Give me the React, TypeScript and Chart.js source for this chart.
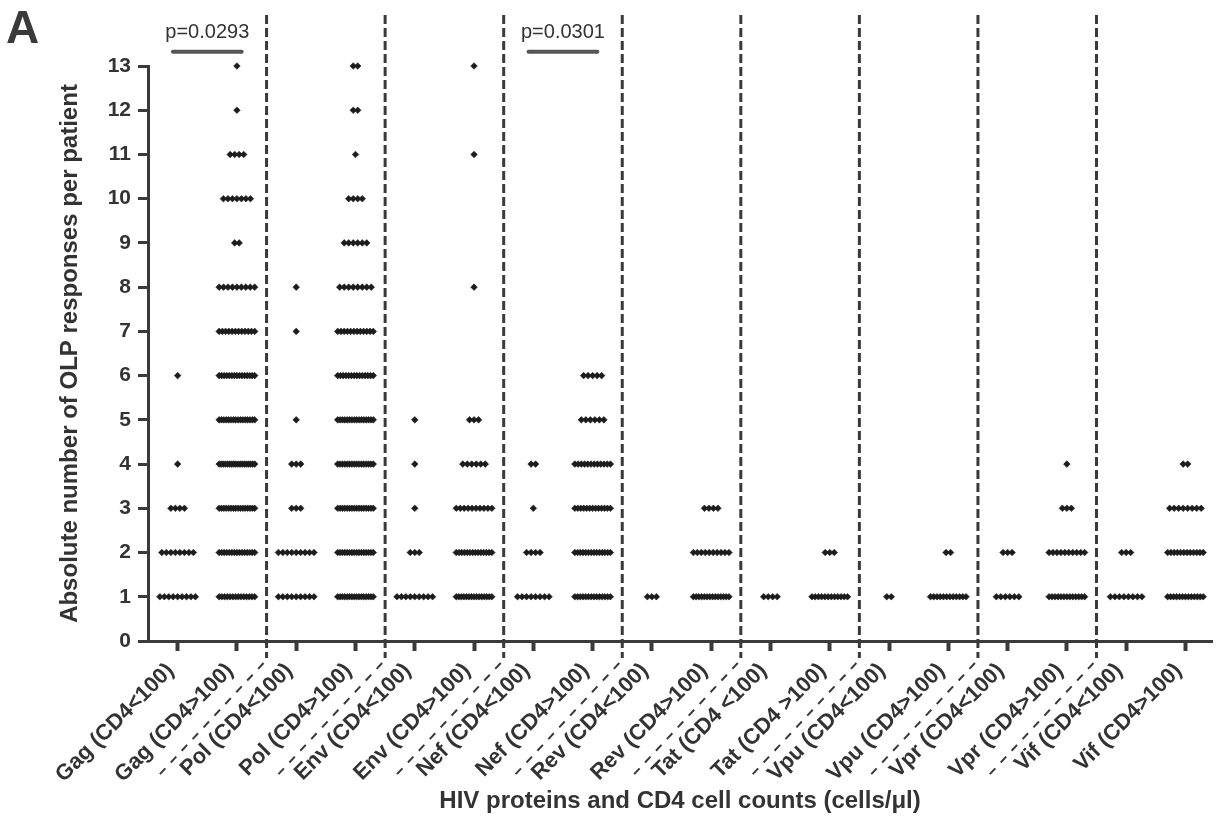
import React, { useEffect, useRef } from "react";
import { Chart, registerables } from "chart.js";

Chart.register(...registerables);

// ---------- data ----------
const categories = [
  "Gag (CD4<100)", "Gag (CD4>100)",
  "Pol (CD4<100)", "Pol (CD4>100)",
  "Env (CD4<100)", "Env (CD4>100)",
  "Nef (CD4<100)", "Nef (CD4>100)",
  "Rev (CD4<100)", "Rev (CD4>100)",
  "Tat (CD4 <100)", "Tat (CD4 >100)",
  "Vpu (CD4<100)", "Vpu (CD4>100)",
  "Vpr (CD4<100)", "Vpr (CD4>100)",
  "Vif (CD4<100)", "Vif (CD4>100)",
];

// response levels (absolute number of OLP responses)
const responseLevels = [1, 2, 3, 4, 5, 6, 7, 8, 9, 10, 11, 12, 13];

// number of patients at each response level (levels 1..13)
const gagLow = [9, 8, 4, 1, 0, 1, 0, 0, 0, 0, 0, 0, 0];
const gagHigh = [14, 15, 16, 18, 16, 15, 12, 9, 2, 7, 4, 1, 1];
const polLow = [9, 9, 3, 3, 1, 0, 1, 1, 0, 0, 0, 0, 0];
const polHigh = [16, 16, 16, 16, 16, 14, 12, 8, 6, 4, 1, 2, 2];
const envLow = [9, 3, 1, 1, 1, 0, 0, 0, 0, 0, 0, 0, 0];
const envHigh = [15, 14, 10, 6, 3, 0, 0, 1, 0, 0, 1, 0, 1];
const nefLow = [8, 4, 1, 2, 0, 0, 0, 0, 0, 0, 0, 0, 0];
const nefHigh = [14, 14, 13, 12, 6, 5, 0, 0, 0, 0, 0, 0, 0];
const revLow = [3, 0, 0, 0, 0, 0, 0, 0, 0, 0, 0, 0, 0];
const revHigh = [14, 10, 4, 0, 0, 0, 0, 0, 0, 0, 0, 0, 0];
const tatLow = [4, 0, 0, 0, 0, 0, 0, 0, 0, 0, 0, 0, 0];
const tatHigh = [12, 3, 0, 0, 0, 0, 0, 0, 0, 0, 0, 0, 0];
const vpuLow = [2, 0, 0, 0, 0, 0, 0, 0, 0, 0, 0, 0, 0];
const vpuHigh = [12, 2, 0, 0, 0, 0, 0, 0, 0, 0, 0, 0, 0];
const vprLow = [6, 3, 0, 0, 0, 0, 0, 0, 0, 0, 0, 0, 0];
const vprHigh = [13, 10, 3, 1, 0, 0, 0, 0, 0, 0, 0, 0, 0];
const vifLow = [8, 3, 0, 0, 0, 0, 0, 0, 0, 0, 0, 0, 0];
const vifHigh = [13, 12, 8, 2, 0, 0, 0, 0, 0, 0, 0, 0, 0];

const patientCounts = [
  gagLow, gagHigh, polLow, polHigh, envLow, envHigh, nefLow, nefHigh,
  revLow, revHigh, tatLow, tatHigh, vpuLow, vpuHigh, vprLow, vprHigh,
  vifLow, vifHigh,
];

const yMin = 0;
const yMax = 13;

// dashed separators between protein groups (category units)
const separators = [1.5, 3.5, 5.5, 7.5, 9.5, 11.5, 13.5, 15.5];

// significance annotations
const pValueLabels = ["p=0.0293", "p=0.0301"];
const pValuePairs = [
  [0, 1],
  [6, 7],
];

const panelLetter = "A";
const xTitle = "HIV proteins and CD4 cell counts (cells/\u03bcl)";
const yTitle = "Absolute number of OLP responses per patient";

// ---------- styling ----------
const FONT = "'Liberation Sans', Arial, sans-serif";
const INK = "#333333";
const AXIS = "#3a3a3a";
const DOT = "#1c1c1c";
const LABEL_ROT = 45;

function buildDatasets() {
  return patientCounts.map((counts, ci) => {
    const pts: { x: number; y: number }[] = [];
    counts.forEach((n, li) => {
      if (n <= 0) return;
      const step = n > 1 ? Math.min(0.076, 0.6 / (n - 1)) : 0;
      for (let j = 0; j < n; j++) {
        pts.push({ x: ci + (j - (n - 1) / 2) * step, y: responseLevels[li] });
      }
    });
    return {
      label: categories[ci],
      data: pts,
      pointStyle: "rectRot" as const,
      pointRadius: 3.3,
      pointHoverRadius: 3.3,
      backgroundColor: DOT,
      borderColor: DOT,
      borderWidth: 0.6,
      showLine: false,
      clip: false as const,
    };
  });
}

const decorPlugin = {
  id: "decor",
  afterDraw(chart: any) {
    const ctx = chart.ctx as CanvasRenderingContext2D;
    const xs = chart.scales.x;
    const ys = chart.scales.y;
    const area = chart.chartArea;
    ctx.save();

    // vertical + diagonal dashed separators
    const rad = (47 * Math.PI) / 180;
    separators.forEach((s) => {
      const px = xs.getPixelForValue(s);
      ctx.strokeStyle = AXIS;
      ctx.lineWidth = 3;
      ctx.setLineDash([9, 4]);
      ctx.beginPath();
      ctx.moveTo(px, 15);
      ctx.lineTo(px, area.bottom + 17);
      ctx.stroke();

      ctx.lineWidth = 2;
      ctx.setLineDash([8, 8]);
      const sx = px - 3;
      const sy = area.bottom + 22;
      const len = 155;
      ctx.beginPath();
      ctx.moveTo(sx, sy);
      ctx.lineTo(sx - len * Math.cos(rad), sy + len * Math.sin(rad));
      ctx.stroke();
    });
    ctx.setLineDash([]);

    // p-value annotations
    pValuePairs.forEach((pair, i) => {
      const x1 = xs.getPixelForValue(pair[0] - 0.08);
      const x2 = xs.getPixelForValue(pair[1] + 0.08);
      const barY = ys.getPixelForValue(13.32);
      ctx.strokeStyle = "#555";
      ctx.lineWidth = 4;
      ctx.lineCap = "round";
      ctx.beginPath();
      ctx.moveTo(x1, barY);
      ctx.lineTo(x2, barY);
      ctx.stroke();
      ctx.fillStyle = INK;
      ctx.font = `20px ${FONT}`;
      ctx.textAlign = "center";
      ctx.textBaseline = "alphabetic";
      ctx.fillText(pValueLabels[i], (x1 + x2) / 2, ys.getPixelForValue(13.63));
    });

    // panel letter
    ctx.fillStyle = AXIS;
    ctx.font = `bold 46px ${FONT}`;
    ctx.textAlign = "left";
    ctx.textBaseline = "alphabetic";
    ctx.fillText(panelLetter, 6, 43);
    ctx.restore();
  },
};

export default function App() {
  const ref = useRef<HTMLCanvasElement | null>(null);

  useEffect(() => {
    if (!ref.current) return;
    const chart = new Chart(ref.current, {
      type: "scatter",
      data: { datasets: buildDatasets() as any },
      options: {
        responsive: false,
        animation: false,
        events: [],
        layout: { padding: { left: 0, right: 0, top: 66, bottom: 0 } },
        plugins: {
          legend: { display: false },
          tooltip: { enabled: false },
          title: { display: false },
        },
        scales: {
          x: {
            type: "linear",
            min: -0.5,
            max: 17.45,
            afterFit: (s: any) => {
              s.height = 830 - 641;
            },
            afterBuildTicks: (s: any) => {
              s.ticks = categories.map((_, i) => ({ value: i }));
            },
            ticks: {
              autoSkip: false,
              minRotation: LABEL_ROT,
              maxRotation: LABEL_ROT,
              padding: 7,
              labelOffset: -7,
              color: INK,
              font: { family: FONT, size: 22, weight: "bold" },
              callback: (v: any) => categories[Math.round(Number(v))] ?? "",
            },
            grid: {
              drawOnChartArea: false,
              drawTicks: true,
              tickLength: 10,
              tickWidth: 4,
              tickColor: AXIS,
              color: AXIS,
            },
            border: { display: true, width: 3, color: AXIS },
            title: {
              display: true,
              text: xTitle,
              color: INK,
              font: { family: FONT, size: 24, weight: "bold" },
              padding: { top: 0, bottom: 14 },
            },
          },
          y: {
            type: "linear",
            min: yMin,
            max: yMax,
            afterFit: (s: any) => {
              s.width = 148;
            },
            ticks: {
              stepSize: 1,
              padding: 7,
              color: INK,
              font: { family: FONT, size: 21, weight: "bold" },
            },
            grid: {
              drawOnChartArea: false,
              drawTicks: true,
              tickLength: 10,
              tickWidth: 3,
              tickColor: AXIS,
              color: AXIS,
            },
            border: { display: true, width: 3, color: AXIS },
            title: {
              display: true,
              text: yTitle,
              color: INK,
              font: { family: FONT, size: 24, weight: "bold" },
              padding: { top: 56, bottom: 0 },
            },
          },
        },
      },
      plugins: [decorPlugin],
    });
    return () => chart.destroy();
  }, []);

  return (
    <canvas
      ref={ref}
      width={1216}
      height={830}
      style={{ position: "fixed", left: 0, top: 0, display: "block" }}
    />
  );
}
